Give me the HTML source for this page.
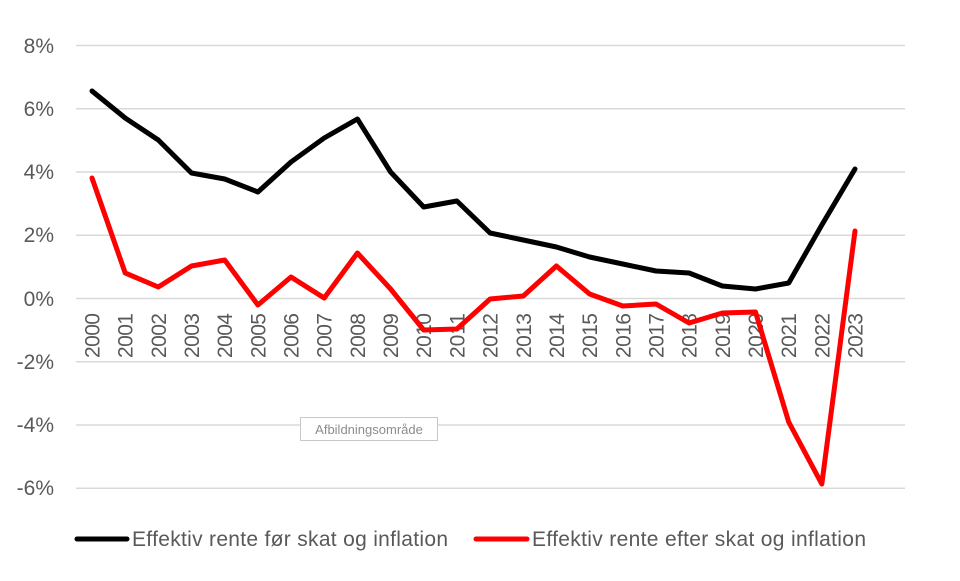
<!DOCTYPE html>
<html><head><meta charset="utf-8"><style>
html,body{margin:0;padding:0;background:#fff;}
svg{display:block;font-family:"Liberation Sans",sans-serif;}
</style></head><body>
<svg width="960" height="581" viewBox="0 0 960 581" xmlns="http://www.w3.org/2000/svg">
<g stroke="#d9d9d9" stroke-width="1.5">
<line x1="76" x2="905" y1="45.5" y2="45.5"/>
<line x1="76" x2="905" y1="108.8" y2="108.8"/>
<line x1="76" x2="905" y1="172" y2="172"/>
<line x1="76" x2="905" y1="235.3" y2="235.3"/>
<line x1="76" x2="905" y1="298.5" y2="298.5"/>
<line x1="76" x2="905" y1="361.8" y2="361.8"/>
<line x1="76" x2="905" y1="425" y2="425"/>
<line x1="76" x2="905" y1="488.3" y2="488.3"/>
</g>
<g fill="#595959" font-size="21" text-anchor="end">
<text x="54" y="53">8%</text>
<text x="54" y="116">6%</text>
<text x="54" y="179">4%</text>
<text x="54" y="242">2%</text>
<text x="54" y="306">0%</text>
<text x="54" y="369">-2%</text>
<text x="54" y="432">-4%</text>
<text x="54" y="495">-6%</text>
</g>
<g fill="#595959" font-size="21" text-anchor="end">
<text transform="translate(99.5,313) rotate(-90)" textLength="45">2000</text>
<text transform="translate(132.7,313) rotate(-90)" textLength="45">2001</text>
<text transform="translate(165.8,313) rotate(-90)" textLength="45">2002</text>
<text transform="translate(199,313) rotate(-90)" textLength="45">2003</text>
<text transform="translate(232.2,313) rotate(-90)" textLength="45">2004</text>
<text transform="translate(265.4,313) rotate(-90)" textLength="45">2005</text>
<text transform="translate(298.5,313) rotate(-90)" textLength="45">2006</text>
<text transform="translate(331.7,313) rotate(-90)" textLength="45">2007</text>
<text transform="translate(364.9,313) rotate(-90)" textLength="45">2008</text>
<text transform="translate(398.1,313) rotate(-90)" textLength="45">2009</text>
<text transform="translate(431.2,313) rotate(-90)" textLength="45">2010</text>
<text transform="translate(464.4,313) rotate(-90)" textLength="45">2011</text>
<text transform="translate(497.6,313) rotate(-90)" textLength="45">2012</text>
<text transform="translate(530.8,313) rotate(-90)" textLength="45">2013</text>
<text transform="translate(563.9,313) rotate(-90)" textLength="45">2014</text>
<text transform="translate(597.1,313) rotate(-90)" textLength="45">2015</text>
<text transform="translate(630.3,313) rotate(-90)" textLength="45">2016</text>
<text transform="translate(663.5,313) rotate(-90)" textLength="45">2017</text>
<text transform="translate(696.6,313) rotate(-90)" textLength="45">2018</text>
<text transform="translate(729.8,313) rotate(-90)" textLength="45">2019</text>
<text transform="translate(763,313) rotate(-90)" textLength="45">2020</text>
<text transform="translate(796.2,313) rotate(-90)" textLength="45">2021</text>
<text transform="translate(829.3,313) rotate(-90)" textLength="45">2022</text>
<text transform="translate(862.5,313) rotate(-90)" textLength="45">2023</text>
</g>
<rect x="300.5" y="417.5" width="137" height="23" fill="#fff" stroke="#c8c8c8"/>
<text x="369" y="434" font-size="13" fill="#8c8c8c" text-anchor="middle">Afbildningsområde</text>
<polyline fill="none" stroke="#000" stroke-width="5" stroke-linejoin="round" stroke-linecap="round" points="92,91 125.2,118 158.3,140 191.5,173 224.7,179 257.9,192 291,162 324.2,138 357.4,119 390.6,172 423.7,207 456.9,201 490.1,233 523.3,240 556.4,247 589.6,257 622.8,264 656,271 689.1,273 722.3,286 755.5,289 788.7,283 821.8,225 855,169"/>
<polyline fill="none" stroke="#ff0000" stroke-width="5" stroke-linejoin="round" stroke-linecap="round" points="92,178 125.2,273 158.3,287 191.5,266 224.7,260 257.9,305 291,277 324.2,298 357.4,253 390.6,289 423.7,330 456.9,329 490.1,299 523.3,296 556.4,266 589.6,294 622.8,306 656,304 689.1,323 722.3,313 755.5,312 788.7,422 821.8,484 855,231"/>
<line x1="77" x2="127" y1="539" y2="539" stroke="#000" stroke-width="5" stroke-linecap="round"/>
<text x="132" y="546" font-size="21" fill="#595959" textLength="316">Effektiv rente før skat og inflation</text>
<line x1="476" x2="527" y1="539" y2="539" stroke="#ff0000" stroke-width="5" stroke-linecap="round"/>
<text x="532" y="546" font-size="21" fill="#595959" textLength="334">Effektiv rente efter skat og inflation</text>
</svg>
</body></html>
